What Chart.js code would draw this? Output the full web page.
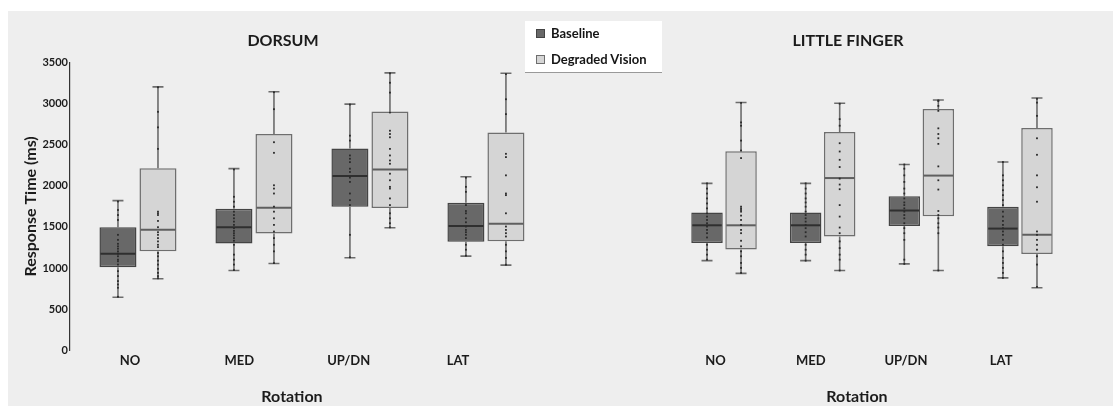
<!DOCTYPE html>
<html><head><meta charset="utf-8">
<script src="https://cdn.jsdelivr.net/npm/chart.js@4.4.1/dist/chart.umd.min.js"></script>
<style>
html,body{margin:0;padding:0;background:#fff;}
#wrap{position:relative;width:1113px;height:406px;overflow:hidden;background:#fff;}
#bg{position:absolute;left:8px;top:11px;right:0;bottom:0;background:#eeeeee;}
#cL{position:absolute;left:0;top:0;}
#cR{position:absolute;left:576px;top:0;}
#legend{position:absolute;left:525px;top:21px;width:137px;height:51px;background:#fff;box-shadow:0 1px 0 #999;font:bold 13px Lato, sans-serif;color:#151515;z-index:5;}
.item{position:absolute;left:11px;height:16px;display:flex;align-items:center;white-space:nowrap;}
.sw{width:7px;height:7px;margin-right:6px;border:1px solid #444;}
</style></head>
<body>
<div id="wrap">
  <div id="bg"></div>
  <canvas id="cL" width="566" height="406"></canvas>
  <canvas id="cR" width="544" height="406"></canvas>
  <div id="legend"></div>
</div>
<script>
// ---------- data ----------
const categories = ['NO', 'MED', 'UP/DN', 'LAT'];
const seriesNames = ['Baseline', 'Degraded Vision'];
const panelTitles = ['DORSUM', 'LITTLE FINGER'];
const xTitle = 'Rotation';
const yTitle = 'Response Time (ms)';
const yTickValues = [0, 500, 1000, 1500, 2000, 2500, 3000, 3500];

// DORSUM - Baseline
const dorsumBaseMin = [645, 970, 1125, 1145];
const dorsumBaseQ1  = [1010, 1300, 1745, 1320];
const dorsumBaseMed = [1175, 1495, 2120, 1510];
const dorsumBaseQ3  = [1495, 1720, 2455, 1795];
const dorsumBaseMax = [1820, 2210, 2995, 2110];
// DORSUM - Degraded Vision
const dorsumDegMin = [870, 1055, 1490, 1035];
const dorsumDegQ1  = [1205, 1420, 1730, 1325];
const dorsumDegMed = [1465, 1735, 2200, 1540];
const dorsumDegQ3  = [2215, 2630, 2905, 2650];
const dorsumDegMax = [3205, 3145, 3375, 3370];
// LITTLE FINGER - Baseline
const fingerBaseMin = [1090, 1090, 1050, 880];
const fingerBaseQ1  = [1305, 1305, 1510, 1265];
const fingerBaseMed = [1520, 1520, 1700, 1480];
const fingerBaseQ3  = [1675, 1675, 1875, 1745];
const fingerBaseMax = [2030, 2030, 2260, 2290];
// LITTLE FINGER - Degraded Vision
const fingerDegMin = [935, 970, 970, 760];
const fingerDegQ1  = [1225, 1385, 1630, 1170];
const fingerDegMed = [1520, 2095, 2125, 1405];
const fingerDegQ3  = [2420, 2655, 2935, 2705];
const fingerDegMax = [3015, 3005, 3045, 3070];

// individual observations (per category)
const dorsumBasePts = [
  [1810, 1706, 1645, 1585, 1404, 1343, 1295, 1264, 1235, 1203, 1175, 1143, 1102, 1082, 1042, 962, 902, 841, 800, 760, 650],
  [2200, 1867, 1807, 1747, 1686, 1645, 1605, 1565, 1525, 1485, 1452, 1424, 1396, 1364, 1332, 1283, 1163, 1102, 1042, 975],
  [2990, 2611, 2551, 2370, 2330, 2289, 2209, 2169, 2100, 2048, 1907, 1826, 1766, 1404, 1130],
  [2100, 1988, 1927, 1766, 1694, 1666, 1605, 1557, 1505, 1464, 1436, 1404, 1364, 1283, 1223, 1150]
];
const dorsumDegPts = [
  [3200, 2901, 2712, 2450, 1686, 1666, 1645, 1573, 1497, 1436, 1404, 1364, 1324, 1283, 1255, 1183, 1143, 1090, 1042, 990, 941, 902, 875],
  [3140, 2933, 2531, 2402, 2007, 1967, 1907, 1747, 1686, 1605, 1525, 1444, 1364, 1283, 1203, 1060],
  [3370, 3255, 3135, 2893, 2671, 2631, 2591, 2450, 2370, 2309, 2269, 2148, 2068, 1988, 1967, 1847, 1766, 1666, 1605, 1545, 1495],
  [3360, 3054, 2873, 2390, 2350, 2128, 1907, 1887, 1666, 1505, 1464, 1424, 1384, 1283, 1203, 1123, 1040]
];
const fingerBasePts = [
  [2030, 1967, 1907, 1847, 1786, 1726, 1666, 1626, 1585, 1545, 1505, 1464, 1424, 1372, 1283, 1223, 1163, 1102],
  [2030, 1967, 1907, 1847, 1798, 1747, 1686, 1645, 1605, 1565, 1525, 1485, 1436, 1384, 1283, 1223, 1163, 1090],
  [2260, 2209, 2128, 2048, 1967, 1907, 1847, 1798, 1766, 1726, 1686, 1645, 1605, 1545, 1485, 1424, 1343, 1102, 1050],
  [2290, 2128, 2068, 2007, 1947, 1887, 1826, 1766, 1686, 1626, 1573, 1525, 1485, 1445, 1404, 1343, 1283, 1203, 1123, 1062, 1002, 941, 880]
];
const fingerDegPts = [
  [3010, 2772, 2732, 2551, 2430, 2338, 1747, 1726, 1706, 1686, 1638, 1585, 1525, 1464, 1424, 1332, 1264, 1203, 1143, 1062, 1002, 940],
  [3000, 2812, 2732, 2519, 2418, 2317, 2229, 2088, 2016, 1959, 1766, 1626, 1493, 1424, 1324, 1243, 1163, 1102, 970],
  [3040, 3033, 2973, 2913, 2700, 2631, 2579, 2511, 2237, 2068, 1955, 1694, 1645, 1605, 1545, 1493, 1424, 970],
  [3060, 3013, 2852, 2579, 2378, 2128, 1983, 1807, 1445, 1404, 1343, 1283, 1223, 1143, 1042, 770]
];

// ---------- styling ----------
const FONT = 'Lato';
const TXT = '#1b1b1b';
const seriesStyle = [
  { fill: '#686868', border: '#444444', median: '#2f2f2f' },
  { fill: '#d5d5d5', border: '#6e6e6e', median: '#5f5f5f' }
];

function makeDataset(idx, min, q1, med, q3, max, pts) {
  const st = seriesStyle[idx];
  return {
    label: seriesNames[idx],
    data: categories.map((c, i) => ({ x: i, y: [q1[i], q3[i]] })),
    backgroundColor: st.fill,
    borderColor: st.border,
    borderWidth: 1.5,
    borderSkipped: false,
    categoryPercentage: 0.69,
    barPercentage: 0.925,
    clip: false,
    xAxisID: 'x',
    boxStats: { min, q1, med, q3, max, pts, medianColor: st.median }
  };
}

const boxParts = {
  id: 'boxParts',
  beforeDatasetsDraw(chart) {
    const ctx = chart.ctx, ys = chart.scales.y;
    chart.data.datasets.forEach((ds, di) => {
      const s = ds.boxStats;
      chart.getDatasetMeta(di).data.forEach((el, j) => {
        const x = el.x;
        const pMax = ys.getPixelForValue(s.max[j]), pMin = ys.getPixelForValue(s.min[j]);
        const pQ1 = ys.getPixelForValue(s.q1[j]), pQ3 = ys.getPixelForValue(s.q3[j]);
        ctx.save();
        ctx.strokeStyle = '#6c6c6c';
        ctx.lineWidth = 1.6;
        ctx.beginPath();
        ctx.moveTo(x, pMax); ctx.lineTo(x, pQ3);
        ctx.moveTo(x, pQ1); ctx.lineTo(x, pMin);
        ctx.moveTo(x - 5.5, pMax); ctx.lineTo(x + 5.5, pMax);
        ctx.moveTo(x - 5.5, pMin); ctx.lineTo(x + 5.5, pMin);
        ctx.stroke();
        ctx.restore();
      });
    });
  },
  afterDatasetsDraw(chart) {
    const ctx = chart.ctx, ys = chart.scales.y;
    chart.data.datasets.forEach((ds, di) => {
      const s = ds.boxStats;
      chart.getDatasetMeta(di).data.forEach((el, j) => {
        const x = el.x, w = el.width;
        const pMed = ys.getPixelForValue(s.med[j]);
        ctx.save();
        ctx.strokeStyle = s.medianColor;
        ctx.lineWidth = 2;
        ctx.beginPath();
        ctx.moveTo(x - w / 2 + 1, pMed); ctx.lineTo(x + w / 2 - 1, pMed);
        ctx.stroke();
        ctx.fillStyle = '#2a2a2a';
        s.pts[j].forEach(v => {
          const py = ys.getPixelForValue(v);
          ctx.fillRect(x - 0.9, py - 0.9, 1.8, 1.8);
        });
        ctx.restore();
      });
    });
  }
};

const categoryTicks = (axis) => { axis.ticks = categories.map((c, i) => ({ value: i })); };

function makeChart(canvasId, title, datasets, showY, xRange, labelRange) {
  return new Chart(document.getElementById(canvasId), {
    type: 'bar',
    data: { datasets },
    plugins: [boxParts],
    options: {
      responsive: false,
      animation: false,
      devicePixelRatio: 1,
      layout: { padding: 0 },
      plugins: {
        legend: { display: false },
        tooltip: { enabled: false },
        title: {
          display: true, text: title, color: TXT,
          font: { family: FONT, size: 16, weight: 'bold' },
          padding: { top: 31, bottom: 12.4 }
        },
        subtitle: {
          display: true, text: xTitle, position: 'bottom', color: TXT, fullSize: false,
          font: { family: FONT, size: 16, weight: 'bold' },
          padding: { top: 15, bottom: 0 }
        }
      },
      scales: {
        x: {
          type: 'linear', display: false, offset: false,
          min: xRange[0], max: xRange[1],
          afterBuildTicks: categoryTicks
        },
        xl: {
          type: 'linear', position: 'bottom', offset: false,
          min: labelRange[0], max: labelRange[1],
          afterBuildTicks: categoryTicks,
          ticks: {
            callback: (v) => categories[v],
            color: TXT, padding: 3, maxRotation: 0, autoSkip: false,
            font: { family: FONT, size: 13, weight: 'bold' }
          },
          grid: { display: false, drawTicks: false },
          border: { display: false }
        },
        y: {
          type: 'linear', display: showY, min: 0, max: 3500,
          afterBuildTicks: (axis) => { axis.ticks = yTickValues.map(v => ({ value: v })); },
          ticks: {
            callback: (v) => String(v),
            color: TXT, padding: 2,
            font: { family: FONT, size: 11, weight: 'bold' }
          },
          grid: { display: false, drawTicks: false },
          border: { display: true, color: '#333333', width: 1.2 },
          title: {
            display: true, text: yTitle, color: TXT,
            font: { family: FONT, size: 16, weight: 'bold' },
            padding: { top: 21, bottom: 0 }
          },
          afterFit: (s) => { s.width = 70; }
        },
        // empty right-hand margin of each panel
        yPad: {
          type: 'linear', position: 'right', min: 0, max: 3500,
          ticks: { display: false },
          grid: { display: false, drawTicks: false },
          border: { display: false },
          afterFit: (s) => { s.width = 52; }
        }
      }
    }
  });
}

const left = makeChart('cL', panelTitles[0], [
  makeDataset(0, dorsumBaseMin, dorsumBaseQ1, dorsumBaseMed, dorsumBaseQ3, dorsumBaseMax, dorsumBasePts),
  makeDataset(1, dorsumDegMin, dorsumDegQ1, dorsumDegMed, dorsumDegQ3, dorsumDegMax, dorsumDegPts)
], true, [-0.586, 3.242], [-0.549, 3.512]);

const right = makeChart('cR', panelTitles[1], [
  makeDataset(0, fingerBaseMin, fingerBaseQ1, fingerBaseMed, fingerBaseQ3, fingerBaseMax, fingerBasePts),
  makeDataset(1, fingerDegMin, fingerDegQ1, fingerDegMed, fingerDegQ3, fingerDegMax, fingerDegPts)
], false, [-0.791, 3.487], [-0.730, 3.702]);

// HTML legend built from the chart's datasets
const lg = document.getElementById('legend');
left.data.datasets.forEach((ds, i) => {
  const it = document.createElement('div');
  it.className = 'item';
  it.style.top = (4 + i * 26) + 'px';
  const sw = document.createElement('span');
  sw.className = 'sw';
  sw.style.background = ds.backgroundColor;
  sw.style.borderColor = ds.borderColor;
  const tx = document.createElement('span');
  tx.textContent = ds.label;
  it.appendChild(sw); it.appendChild(tx);
  lg.appendChild(it);
});
</script>
</body></html>
